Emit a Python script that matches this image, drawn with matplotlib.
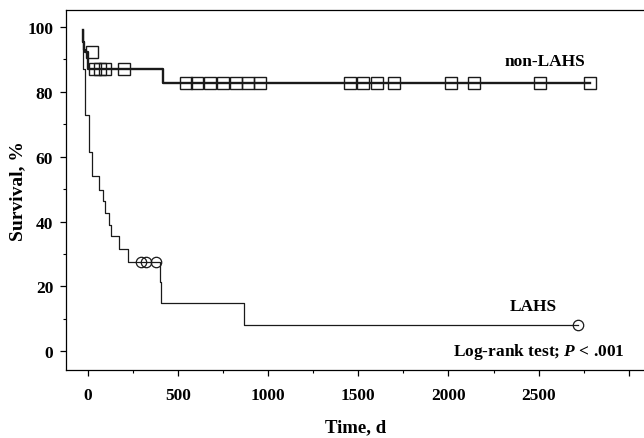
import numpy as np
import matplotlib
matplotlib.use("Agg")
import matplotlib.pyplot as plt
from matplotlib.ticker import MultipleLocator

plt.rcParams["font.family"] = ["Liberation Serif", "DejaVu Serif"]
plt.rcParams["font.weight"] = "bold"
plt.rcParams["mathtext.fontset"] = "custom"
plt.rcParams["mathtext.rm"] = "Liberation Serif:bold"
plt.rcParams["mathtext.it"] = "Liberation Serif:italic:bold"

# --- non-LAHS Kaplan-Meier curve (days, survival %) ---
nl_time = [-28, -25, -20, -12, 2, 418, 2785]
nl_surv = [99, 95.5, 93, 92.2, 87.0, 82.7, 82.7]
nl_cens_time = [22, 40, 68, 95, 204,
                543, 609, 681, 753, 825, 891, 957,
                1455, 1526, 1604, 1700, 2015, 2140, 2508, 2785]
nl_cens_surv = [92.2, 87.0, 87.0, 87.0, 87.0] + [82.7] * 15

# --- LAHS Kaplan-Meier curve ---
la_time = [-28, -27, -15, 9, 22, 64, 83, 96, 118, 129, 173, 224,
           400, 409, 865, 2716]
la_surv = [99, 87, 72.8, 61.6, 54.1, 49.8, 46.2, 42.6, 38.9, 35.4,
           31.5, 27.4, 21.3, 14.8, 8.1, 8.1]
la_cens_time = [298, 326, 381, 2716]
la_cens_surv = [27.4, 27.4, 27.4, 8.1]

x_ticks = [0, 500, 1000, 1500, 2000, 2500, 3000]
x_labels = ["0", "500", "1000", "1500", "2000", "2500", ""]
y_ticks = [0, 20, 40, 60, 80, 100]

fig = plt.figure(figsize=(6.44, 4.39), dpi=100)
ax = fig.add_axes([0.103, 0.1556, 0.897, 0.819])

ax.step(nl_time, nl_surv, where="post", color="#1a1a1a", lw=1.7)
ax.plot(nl_cens_time, nl_cens_surv, ls="none", marker="s", ms=8.5,
        mfc="none", mec="#1a1a1a", mew=1.0)

ax.step(la_time, la_surv, where="post", color="#1a1a1a", lw=0.9)
ax.plot(la_cens_time, la_cens_surv, ls="none", marker="o", ms=7.5,
        mfc="none", mec="#1a1a1a", mew=0.9)

ax.set_xlim(-118, 3084)
ax.set_ylim(-5.7, 105.2)
ax.set_xticks(x_ticks)
ax.set_xticklabels(x_labels)
ax.set_yticks(y_ticks)
ax.xaxis.set_minor_locator(MultipleLocator(250))
ax.yaxis.set_minor_locator(MultipleLocator(10))
ax.tick_params(axis="both", which="major", direction="out", length=4.5,
               width=0.9, labelsize=12.5)
ax.tick_params(axis="both", which="minor", direction="out", length=2.5,
               width=0.8)
ax.tick_params(axis="x", which="major", pad=8)
ax.tick_params(axis="y", which="major", pad=5)
ax.spines["right"].set_visible(False)
for s in ("left", "bottom", "top"):
    ax.spines[s].set_linewidth(0.9)

ax.set_xlabel("Time, d", fontsize=13.5, fontweight="bold", labelpad=11)
ax.set_ylabel("Survival, %", fontsize=14, fontweight="bold", labelpad=1)

ax.text(2535, 89.6, "non-LAHS", fontsize=12.5, ha="center", va="center")
ax.text(2468, 14, "LAHS", fontsize=12.5, ha="center", va="center")
ax.text(2975, 0.2, "Log-rank test; $P$ < .001", fontsize=12.5,
        ha="right", va="center")

fig.savefig("out.png", dpi=100)
plt.close(fig)
